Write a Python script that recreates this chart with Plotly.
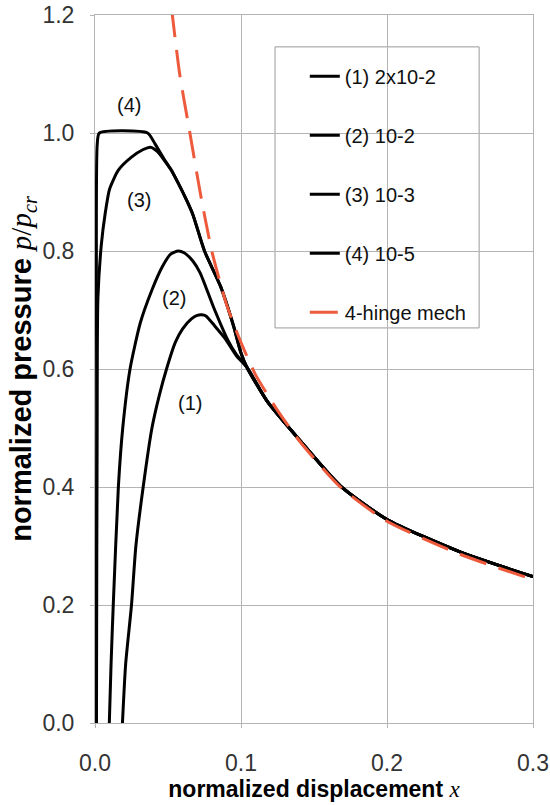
import plotly.graph_objects as go

# ---- data ----
x1 = [0.0188, 0.021, 0.025, 0.028, 0.033, 0.039, 0.044, 0.049, 0.055, 0.060, 0.066, 0.070, 0.073, 0.076, 0.082, 0.089, 0.097, 0.104, 0.118, 0.141, 0.168, 0.200, 0.250, 0.300]
y1 = [0.0, 0.1, 0.2, 0.3, 0.4, 0.5, 0.555, 0.6, 0.645, 0.668, 0.685, 0.691, 0.692, 0.690, 0.673, 0.652, 0.622, 0.603, 0.545, 0.477, 0.402, 0.345, 0.290, 0.248]

x2 = [0.0098, 0.011, 0.0125, 0.016, 0.019, 0.024, 0.031, 0.039, 0.046, 0.052, 0.057, 0.061, 0.067, 0.072, 0.081, 0.091, 0.097, 0.104, 0.118, 0.141, 0.168, 0.200, 0.250, 0.300]
y2 = [0.0, 0.1, 0.2, 0.4, 0.5, 0.6, 0.678, 0.734, 0.773, 0.795, 0.800, 0.797, 0.783, 0.763, 0.706, 0.649, 0.624, 0.603, 0.545, 0.477, 0.402, 0.345, 0.290, 0.248]

x3 = [0.0010, 0.0014, 0.0020, 0.0043, 0.007, 0.010, 0.016, 0.025, 0.033, 0.038, 0.043, 0.048, 0.052, 0.057, 0.062, 0.067, 0.075, 0.086, 0.095, 0.100, 0.104, 0.118, 0.141, 0.168, 0.200, 0.250, 0.300]
y3 = [0.0, 0.5, 0.72, 0.81, 0.864, 0.905, 0.937, 0.959, 0.972, 0.976, 0.968, 0.952, 0.938, 0.915, 0.890, 0.862, 0.800, 0.740, 0.672, 0.627, 0.603, 0.545, 0.477, 0.402, 0.345, 0.290, 0.248]

x4 = [0.0008, 0.0012, 0.0015, 0.003, 0.036, 0.041, 0.047, 0.052, 0.057, 0.062, 0.067, 0.075, 0.086, 0.095, 0.100, 0.104, 0.118, 0.141, 0.168, 0.200, 0.250, 0.300]
y4 = [0.0, 0.5, 0.98, 1.0, 1.0, 0.982, 0.957, 0.938, 0.915, 0.890, 0.862, 0.800, 0.740, 0.672, 0.627, 0.603, 0.545, 0.477, 0.402, 0.345, 0.290, 0.248]

xm = [0.0525, 0.058, 0.065, 0.072, 0.080, 0.090, 0.100, 0.110, 0.125, 0.141, 0.168, 0.200, 0.250, 0.300]
ym = [1.21, 1.10, 1.00, 0.90, 0.80, 0.71, 0.645, 0.59, 0.53, 0.475, 0.400, 0.342, 0.286, 0.243]

names = ["(1) 2x10-2", "(2) 10-2", "(3) 10-3", "(4) 10-5", "4-hinge mech"]
curve_labels = ["(1)", "(2)", "(3)", "(4)"]
label_x = [0.065, 0.054, 0.030, 0.023]
label_y = [0.542, 0.720, 0.886, 1.047]

x_ticks = [0.0, 0.1, 0.2, 0.3]
y_ticks = [0.0, 0.2, 0.4, 0.6, 0.8, 1.0, 1.2]

fig = go.Figure()
for i, (xs, ys) in enumerate([(x1, y1), (x2, y2), (x3, y3), (x4, y4)]):
    fig.add_trace(go.Scatter(x=xs, y=ys, mode="lines", name=names[i],
                             legendgroup=f"g{i}",
                             line=dict(color="black", width=3, shape="spline", smoothing=0.6)))
fig.add_trace(go.Scatter(x=xm, y=ym, mode="lines", name=names[4], legendgroup="g4",
                         line=dict(color="#EE5A3C", width=3, dash="28px,13px", shape="spline", smoothing=0.6)))

for t, lx, ly in zip(curve_labels, label_x, label_y):
    fig.add_annotation(x=lx, y=ly, text=t, showarrow=False,
                       font=dict(family="Liberation Sans, Arial", size=20, color="#111"))

# legend frame
fig.add_shape(type="rect", xref="paper", yref="paper",
              x0=0.411, x1=0.877, y0=0.558, y1=0.955,
              line=dict(color="#9a9a9a", width=1), fillcolor="white", layer="below")

grid = "#b4b4b4"
fig.update_layout(
    width=550, height=805,
    margin=dict(l=95, r=17, t=15, b=82, autoexpand=False),
    paper_bgcolor="white", plot_bgcolor="white",
    font=dict(family="Liberation Sans, Arial", color="#222"),
    legend=dict(x=0.479, y=0.941, xanchor="left", yanchor="top",
                bgcolor="rgba(0,0,0,0)", borderwidth=0,
                font=dict(size=20, color="#111"),
                tracegroupgap=30, traceorder="grouped"),
    xaxis=dict(range=[0, 0.3], tickvals=x_ticks, tickformat=".1f", automargin=False,
               showgrid=True, gridcolor=grid, gridwidth=1,
               showline=True, linecolor=grid, mirror=True, zeroline=False,
               ticks="outside", ticklen=4, tickcolor=grid,
               tickfont=dict(size=23, color="#333"), ticklabelstandoff=15,
               title=dict(text="<b>normalized displacement </b><span style='font-family:Liberation Serif'><i>x</i></span>",
                          font=dict(size=23, color="black"), standoff=4)),
    yaxis=dict(range=[0, 1.2], tickvals=y_ticks, tickformat=".1f", automargin=False,
               showgrid=True, gridcolor=grid, gridwidth=1,
               showline=True, linecolor=grid, mirror=True, zeroline=False,
               ticks="outside", ticklen=4, tickcolor=grid,
               tickfont=dict(size=23, color="#333"), ticklabelstandoff=11,
               title=dict(text="<b>normalized pressure </b><span style='font-family:Liberation Serif'><i>p</i>/<i>p</i><sub><i>cr</i></sub></span>",
                          font=dict(size=29, color="black"), standoff=2)),
)

fig.write_html("out.html")
